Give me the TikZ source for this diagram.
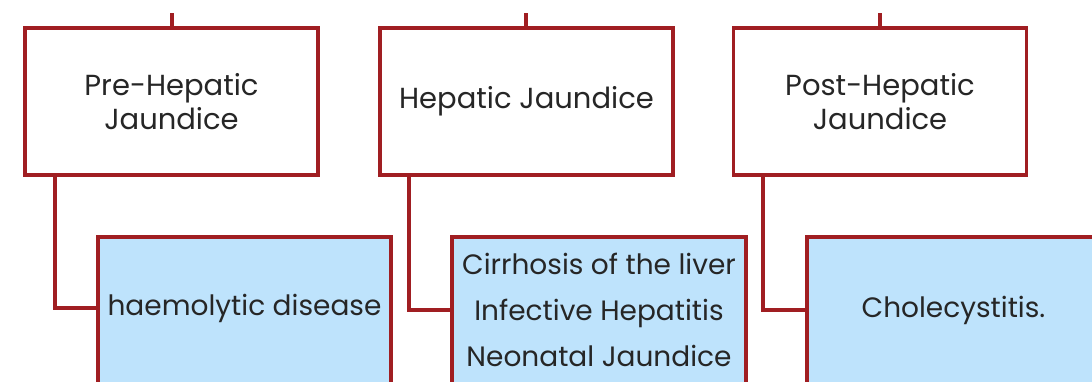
\documentclass[tikz,border=0pt]{standalone}
\usepackage{fontspec}
\setmainfont{Poppins}
\definecolor{boxred}{HTML}{A01E22}
\definecolor{boxblue}{HTML}{BEE3FC}
\tikzset{
  topbox/.style={draw=boxred, line width=3.4pt, fill=white, minimum width=293pt, minimum height=147pt, align=center, font=\fontsize{29}{34}\selectfont, text=black!85},
  botbox/.style={draw=boxred, line width=3.4pt, fill=boxblue},
  bottext/.style={align=center, font=\fontsize{28}{46}\selectfont, text=black!85},
  conn/.style={draw=boxred, line width=3.4pt}
}
\begin{document}
\begin{tikzpicture}[x=1pt,y=-1pt]
\useasboundingbox (0,0) rectangle (1092,381);
\fill[white] (0,0) rectangle (1092,381);
\clip (0,0) rectangle (1092,381);
% top boxes
\node[topbox] (t1) at (171.5,101.5) {Pre-Hepatic\\Jaundice};
\node[topbox] (t2) at (526.5,101.5) {Hepatic Jaundice};
\node[topbox] (t3) at (880,101.5) {Post-Hepatic\\Jaundice};
% bottom boxes
\path[botbox] (98,237) rectangle (391,386);
\node[bottext] (b1) at (244.5,308) {haemolytic disease};
\path[botbox] (452,237) rectangle (746,386);
\node[bottext] (b2) at (599,310) {Cirrhosis of the liver\\Infective Hepatitis\\Neonatal Jaundice};
\path[botbox] (807,237) rectangle (1100,386);
\node[bottext] (b3) at (953.5,310) {Cholecystitis.};
% stubs
\coordinate (s1) at (172,13);
\coordinate (s2) at (526,13);
\coordinate (s3) at (880,13);
\draw[conn] (s1) -- (s1 |- t1.north);
\draw[conn] (s2) -- (s2 |- t2.north);
\draw[conn] (s3) -- (s3 |- t3.north);
% branch connectors
\coordinate (c1) at (55,175);
\coordinate (c2) at (409,175);
\coordinate (c3) at (763,175);
\coordinate (e1) at (98,308);
\coordinate (e2) at (452,310);
\coordinate (e3) at (807,310);
\draw[conn] (c1) |- (e1);
\draw[conn] (c2) |- (e2);
\draw[conn] (c3) |- (e3);
\end{tikzpicture}
\end{document}
